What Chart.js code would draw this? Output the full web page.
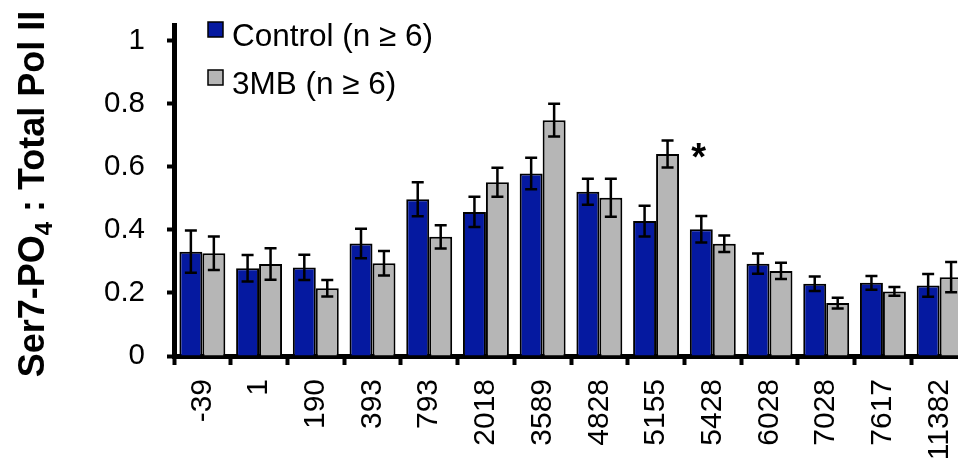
<!DOCTYPE html>
<html>
<head>
<meta charset="utf-8">
<script src="https://cdn.jsdelivr.net/npm/chart.js@4/dist/chart.umd.min.js"></script>
<style>
  html, body { margin: 0; padding: 0; overflow: hidden; background: #fff; }
  #wrap { position: absolute; left: 0; top: 0; width: 968px; height: 469px; }
</style>
</head>
<body>
<div id="wrap"><canvas id="chart" width="968" height="469"></canvas></div>
<script>
// Distance from the transcription start site (bp)
const categories = ['-39', '1', '190', '393', '793', '2018', '3589', '4828', '5155', '5428', '6028', '7028', '7617', '11382'];

// Ser7-PO4 / total Pol II ratio, mean and SEM
const controlValues = [0.331, 0.278, 0.281, 0.357, 0.497, 0.457, 0.579, 0.521, 0.428, 0.402, 0.293, 0.229, 0.232, 0.224];
const controlErrors = [0.067, 0.042, 0.040, 0.047, 0.054, 0.048, 0.050, 0.041, 0.049, 0.042, 0.032, 0.023, 0.022, 0.036];
const mbValues      = [0.326, 0.292, 0.215, 0.294, 0.378, 0.551, 0.748, 0.502, 0.641, 0.356, 0.270, 0.168, 0.205, 0.250];
const mbErrors      = [0.053, 0.050, 0.026, 0.039, 0.037, 0.046, 0.052, 0.060, 0.043, 0.026, 0.026, 0.017, 0.014, 0.048];
const mbMarks       = ['', '', '', '', '', '', '', '', '*', '', '', '', '', ''];

const seriesNames = ['Control (n \u2265 6)', '3MB (n \u2265 6)'];
const yTicks = [0, 0.2, 0.4, 0.6, 0.8, 1];

const FONT = '"Liberation Sans", Arial, Helvetica, sans-serif';
const BLUE = '#0519A0';
const GREY = '#B6B6B6';

const errorArrays = [controlErrors, mbErrors];
const markArrays = [null, mbMarks];

// Vertical error bars with caps, drawn over the bars
const errorBars = {
  id: 'errorBars',
  afterDatasetsDraw(chart) {
    const ctx = chart.ctx;
    const y = chart.scales.y;
    ctx.save();
    ctx.strokeStyle = '#000';
    ctx.lineWidth = 2.5;
    chart.data.datasets.forEach((ds, i) => {
      const meta = chart.getDatasetMeta(i);
      meta.data.forEach((bar, j) => {
        const v = ds.data[j], e = errorArrays[i][j];
        const top = y.getPixelForValue(v + e);
        const bot = y.getPixelForValue(v - e);
        const cap = 6;
        ctx.beginPath();
        ctx.moveTo(bar.x, top); ctx.lineTo(bar.x, bot);
        ctx.moveTo(bar.x - cap, top); ctx.lineTo(bar.x + cap, top);
        ctx.moveTo(bar.x - cap, bot); ctx.lineTo(bar.x + cap, bot);
        ctx.stroke();
        const marks = markArrays[i];
        if (marks && marks[j]) {
          ctx.fillStyle = '#000';
          ctx.font = 'bold 38px ' + FONT;
          ctx.textAlign = 'center';
          ctx.textBaseline = 'alphabetic';
          ctx.fillText(marks[j], bar.x + 31, top + 30);
        }
      });
    });
    ctx.restore();
  }
};

// Legend boxes inside the plot, top left
const boxLegend = {
  id: 'boxLegend',
  afterDraw(chart) {
    const ctx = chart.ctx;
    ctx.save();
    ctx.font = '31.5px ' + FONT;
    ctx.textAlign = 'left';
    ctx.textBaseline = 'alphabetic';
    chart.data.datasets.forEach((ds, i) => {
      const bx = 208, by = 22 + i * 48;
      ctx.fillStyle = ds.backgroundColor;
      ctx.fillRect(bx, by, 15, 15);
      ctx.strokeStyle = '#000';
      ctx.lineWidth = 1.5;
      ctx.strokeRect(bx, by, 15, 15);
      ctx.fillStyle = '#000';
      ctx.fillText(ds.label, 232, by + 24);
    });
    ctx.restore();
  }
};

// Rotated y-axis title with a subscript
const yTitle = {
  id: 'yTitle',
  afterDraw(chart) {
    const ctx = chart.ctx;
    const parts = [
      { t: 'Ser7-PO', size: 36, dy: 0 },
      { t: '4', size: 24, dy: 8 },
      { t: ' : Total Pol II', size: 36, dy: 0 }
    ];
    ctx.save();
    let total = 0;
    parts.forEach(p => { ctx.font = 'bold ' + p.size + 'px ' + FONT; p.w = ctx.measureText(p.t).width; total += p.w; });
    ctx.translate(44, 194);
    ctx.rotate(-Math.PI / 2);
    ctx.fillStyle = '#000';
    ctx.textAlign = 'left';
    ctx.textBaseline = 'alphabetic';
    let x = -total / 2;
    parts.forEach(p => {
      ctx.font = 'bold ' + p.size + 'px ' + FONT;
      ctx.fillText(p.t, x, p.dy);
      x += p.w;
    });
    ctx.restore();
  }
};

new Chart(document.getElementById('chart'), {
  type: 'bar',
  data: {
    labels: categories,
    datasets: [
      { label: seriesNames[0], data: controlValues, backgroundColor: BLUE, borderColor: '#000', borderWidth: 2 },
      { label: seriesNames[1], data: mbValues, backgroundColor: GREY, borderColor: '#000', borderWidth: 2 }
    ]
  },
  options: {
    responsive: false,
    animation: false,
    devicePixelRatio: 1,
    layout: { padding: { top: 25, left: 0, right: 0, bottom: 0 } },
    datasets: { bar: { categoryPercentage: 0.81, barPercentage: 1.0 } },
    plugins: { legend: { display: false }, tooltip: { enabled: false } },
    scales: {
      x: {
        grid: { display: true, drawOnChartArea: false, drawTicks: true, tickLength: 9, tickWidth: 4, tickColor: '#000', offset: true },
        border: { display: true, width: 5, color: '#000' },
        ticks: {
          autoSkip: false, maxRotation: 90, minRotation: 90, padding: 14,
          color: '#000', font: { family: FONT, size: 30 }
        },
        afterFit(scale) {
          scale.height = 113;
          scale.paddingLeft = 0; scale.paddingRight = 0;
        }
      },
      y: {
        min: 0, max: 1.05,
        grid: { display: true, drawOnChartArea: false, drawTicks: true, tickLength: 7, tickWidth: 4, tickColor: '#000' },
        border: { display: true, width: 5, color: '#000' },
        ticks: {
          stepSize: 0.2, padding: 22, color: '#000',
          font: { family: FONT, size: 29.5 },
          callback: v => String(Math.round(v * 10) / 10)
        },
        afterBuildTicks(scale) { scale.ticks = yTicks.map(v => ({ value: v })); },
        afterFit(scale) {
          scale.width = 174;
          scale.paddingTop = 0; scale.paddingBottom = 0;
        }
      }
    }
  },
  plugins: [errorBars, boxLegend, yTitle]
});
</script>
</body>
</html>
